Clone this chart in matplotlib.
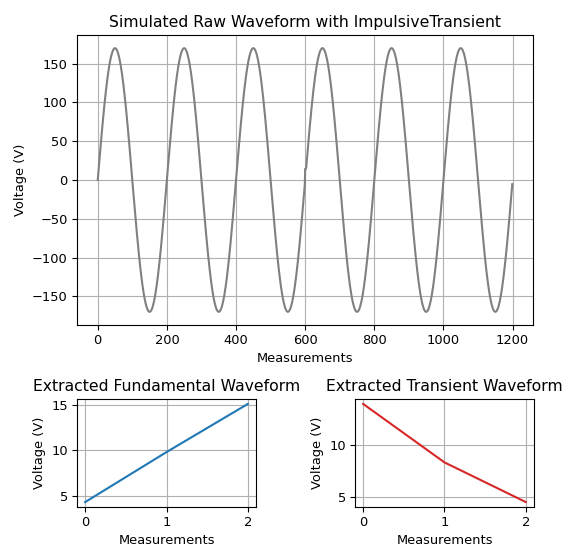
import numpy as np
import matplotlib
matplotlib.use("Agg")
import matplotlib.pyplot as plt

# Raw waveform definition (simulated signal)
n_samples = 1200
amplitude = 170.0
period_samples = 200
transient_start = 600
transient_values = [13.9, 8.3, 4.5]

# Extracted waveforms
fund_x = [0, 1, 2]
fund_y = [4.3, 9.8, 15.1]
trans_x = [0, 1, 2]
trans_y = [13.9, 8.3, 4.5]

n = np.arange(n_samples)
raw = amplitude * np.sin(2 * np.pi * n / period_samples)
raw[transient_start:transient_start + len(transient_values)] += transient_values

s = 0.94
plt.rcParams.update({
    'font.size': 10 * s,
    'axes.titlesize': 12 * s,
    'xtick.major.size': 3.5 * s,
    'ytick.major.size': 3.5 * s,
    'xtick.major.pad': 3.5 * s,
    'ytick.major.pad': 3.5 * s,
    'axes.labelpad': 4.0 * s,
    'axes.titlepad': 6.0 * s,
})

W, H = 563, 544
fig = plt.figure(figsize=(W / 100, H / 100), dpi=100)

ax1 = fig.add_axes([77 / W, 1 - 325 / H, 456 / W, 290 / H])
ax1.plot(n, raw, color='gray', lw=1.5)
ax1.set_title('Simulated Raw Waveform with ImpulsiveTransient')
ax1.set_xlabel('Measurements')
ax1.set_ylabel('Voltage (V)')
ax1.grid(True)

ax2 = fig.add_axes([77 / W, 1 - 507 / H, 179 / W, 108 / H])
ax2.plot(fund_x, fund_y, color='#1f77b4', lw=1.5)
ax2.set_title('Extracted Fundamental Waveform')
ax2.set_xlabel('Measurements')
ax2.set_ylabel('Voltage (V)')
ax2.set_xticks([0, 1, 2])
ax2.grid(True)

ax3 = fig.add_axes([355 / W, 1 - 507 / H, 179 / W, 108 / H])
ax3.plot(trans_x, trans_y, color='#d62728', lw=1.5)
ax3.set_title('Extracted Transient Waveform')
ax3.set_xlabel('Measurements')
ax3.set_ylabel('Voltage (V)')
ax3.set_xticks([0, 1, 2])
ax3.set_yticks([5, 10])
ax3.grid(True)

fig.savefig('out.png', dpi=100)
